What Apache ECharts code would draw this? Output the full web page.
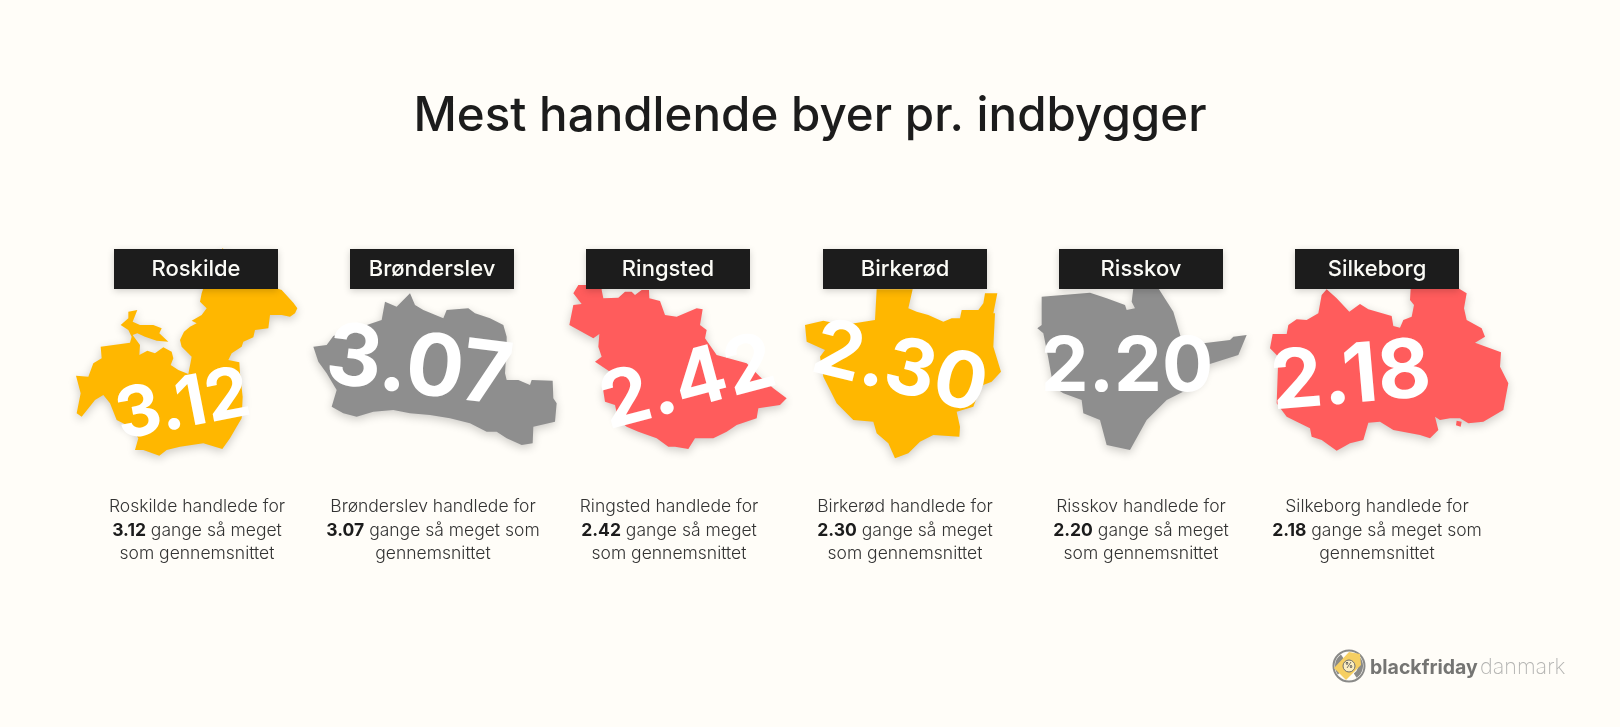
<!DOCTYPE html>
<html><head><meta charset="utf-8">
<script src="https://cdn.jsdelivr.net/npm/echarts@6/dist/echarts.min.js"></script>
<style>html,body{margin:0;padding:0;background:#fffdf8}#c{width:1620px;height:727px}</style>
</head><body><div id="c"></div>
<script>
const TITLE = 'Mest handlende byer pr. indbygger';
const cities = ['Roskilde','Brønderslev','Ringsted','Birkerød','Risskov','Silkeborg'];
const values = [3.12,3.07,2.42,2.30,2.20,2.18];
const colours = ['#ffb700','#8e8e8e','#ff5c5c','#ffb700','#8e8e8e','#ff5c5c'];
const wrapAfterSom = [false,true,false,false,false,true];

// Traced municipality outlines (crop pixels at 3x; origin of the crop below)
const outlineRoskilde = [[430,175],[470,100],[487,55],[495,60],[600,175],[650,175],[665,180],[700,218],[712,235],[705,250],[690,260],[665,255],[630,255],[625,295],[585,300],[580,322],[550,335],[545,350],[515,370],[505,390],[538,397],[540,430],[548,500],[545,565],[530,590],[510,625],[487,657],[430,640],[360,650],[320,660],[298,677],[250,660],[225,660],[235,625],[210,590],[170,570],[150,520],[130,495],[105,510],[65,560],[50,550],[62,490],[48,437],[85,440],[100,400],[125,385],[122,350],[210,338],[215,320],[205,300],[182,285],[205,265],[205,245],[232,240],[218,275],[240,285],[280,285],[305,295],[298,310],[325,335],[290,332],[255,320],[232,310],[218,315],[240,345],[238,375],[262,362],[285,370],[310,352],[335,365],[340,385],[332,405],[355,420],[385,432],[395,380],[365,350],[360,330],[372,305],[390,290],[410,280],[395,272],[425,255],[440,235],[420,215],[425,190]];
const outlineBronderslev = [[760,350],[800,345],[820,318],[905,290],[965,270],[975,215],[1010,230],[1050,190],[1065,225],[1090,240],[1150,265],[1160,240],[1225,235],[1245,250],[1290,265],[1330,285],[1340,320],[1340,350],[1335,430],[1340,450],[1375,450],[1410,465],[1415,450],[1478,452],[1480,505],[1490,520],[1485,575],[1420,590],[1418,640],[1385,645],[1340,625],[1310,605],[1280,605],[1230,580],[1170,565],[1110,555],[1050,550],[1000,540],[940,545],[890,560],[850,550],[815,530],[830,480],[800,430],[775,395]];
const outlineRingsted = [[40,190],[55,165],[125,165],[125,180],[130,205],[175,203],[195,185],[215,185],[225,195],[245,180],[267,180],[268,205],[300,213],[315,255],[350,260],[410,235],[428,238],[420,285],[440,300],[435,325],[470,375],[560,400],[600,440],[640,475],[680,505],[660,525],[595,535],[590,565],[530,585],[500,605],[460,625],[405,625],[385,657],[345,650],[325,650],[290,625],[235,605],[200,590],[175,570],[165,525],[135,515],[128,470],[150,450],[150,425],[105,395],[125,380],[115,350],[118,312],[100,325],[28,285],[40,225],[65,222]];
const outlineBirkerod = [[950,178],[1058,178],[1045,235],[1070,245],[1105,255],[1150,275],[1175,265],[1200,265],[1205,240],[1255,240],[1270,220],[1275,190],[1312,190],[1300,250],[1305,250],[1300,350],[1323,425],[1295,455],[1270,465],[1255,490],[1240,530],[1190,545],[1200,590],[1198,620],[1120,615],[1080,635],[1045,670],[1005,685],[985,640],[950,610],[940,575],[880,570],[830,520],[810,480],[790,440],[780,380],[795,360],[740,335],[735,285],[790,272],[850,285],[945,270]];
const outlineRisskov = [[65,200],[210,188],[260,205],[315,225],[320,240],[345,235],[335,215],[340,175],[415,175],[460,245],[485,330],[550,340],[630,330],[640,320],[680,315],[655,375],[560,405],[545,450],[500,480],[440,510],[380,570],[330,660],[260,645],[240,570],[190,550],[185,510],[130,490],[100,470],[85,385],[70,310],[52,295],[65,285]];
const outlineSilkeborg = [[905,195],[920,178],[950,205],[988,245],[1020,222],[1045,238],[1115,258],[1120,288],[1140,293],[1150,270],[1175,260],[1182,225],[1170,210],[1172,175],[1315,175],[1340,190],[1332,235],[1340,270],[1385,295],[1395,320],[1365,338],[1443,367],[1440,410],[1465,460],[1450,540],[1390,575],[1345,580],[1320,565],[1290,565],[1260,570],[1245,560],[1255,600],[1230,625],[1200,615],[1120,600],[1080,575],[1045,578],[1030,630],[990,640],[950,662],[905,630],[875,620],[870,595],[800,560],[770,520],[775,380],[750,355],[758,312],[800,312],[805,285],[830,268],[860,270],[895,250]];
const outlines = [outlineRoskilde,outlineBronderslev,outlineRingsted,outlineBirkerod,outlineRisskov,outlineSilkeborg];
const islandSilkeborg = [[1310,572],[1325,575],[1322,590],[1308,586]];
const islands = [null,null,null,null,null,islandSilkeborg];

// Layout (kept apart from the data)
const W = 1620, H = 727;
const cropOrigin = [[60,230],[60,230],[560,230],[560,230],[1020,230],[1020,230]];
const boxLeft = [114,350,586,823,1059,1295];
const boxTop = 249, boxW = 164, boxH = 40;
const textCentre = [197,433,669,905,1141,1377];
const numberAt = [[183,406],[419,368],[688,384],[900,369],[1127,368],[1351,378]];
const numberRotate = [11,-7,15,-14,0,5];
const numberSize = [70,86,78,78,76,82];

const toRing = (pts,[ox,oy]) => { const r = pts.map(([x,y])=>[ox+x/3, oy+y/3]); r.push(r[0]); return r; };
const features = cities.map((name,i)=>{
  const polys = [[toRing(outlines[i],cropOrigin[i])]];
  if (islands[i]) polys.push([toRing(islands[i],cropOrigin[i])]);
  return {type:'Feature',properties:{name,cp:numberAt[i]},geometry:{type:'MultiPolygon',coordinates:polys}};
});
echarts.registerMap('byer',{type:'FeatureCollection',features});

const chart = echarts.init(document.getElementById('c'),null,{renderer:'canvas'});
const FONT='Inter';
const graphics = [];
cities.forEach((name,i)=>{
  graphics.push({type:'rect',z:20,silent:true,shape:{x:boxLeft[i],y:boxTop,width:boxW,height:boxH},
    style:{fill:'#1c1c1c',shadowBlur:7,shadowOffsetY:2,shadowColor:'rgba(0,0,0,0.18)'}});
  graphics.push({type:'text',z:21,silent:true,style:{text:name,x:boxLeft[i]+boxW/2,y:boxTop+boxH/2,align:'center',verticalAlign:'middle',
    fontFamily:FONT,fontSize:22,fontWeight:500,fill:'#fbfbf6'}});
  const v = values[i].toFixed(2);
  const body = wrapAfterSom[i]
    ? `${name} handlede for\n{b|${v}} gange så meget som\ngennemsnittet`
    : `${name} handlede for\n{b|${v}} gange så meget\nsom gennemsnittet`;
  graphics.push({type:'text',z:5,silent:true,style:{text:body,x:textCentre[i],y:530.5,align:'center',verticalAlign:'middle',
    fontFamily:FONT,fontSize:17.5,fontWeight:300,fill:'#333',lineHeight:23.5,
    rich:{b:{fontFamily:FONT,fontSize:17.5,fontWeight:700,fill:'#1c1c1c',lineHeight:23.5}}}});
});
// logo
graphics.push({type:'circle',z:5,silent:true,shape:{cx:1349,cy:666,r:15.5},style:{fill:'none',stroke:'#8a8a88',lineWidth:2}});
graphics.push({type:'sector',z:5,silent:true,shape:{cx:1349,cy:666,r:14,r0:9,startAngle:-0.6,endAngle:1.0},style:{fill:'#8a8a88'}});
graphics.push({type:'sector',z:5,silent:true,shape:{cx:1349,cy:666,r:14,r0:9,startAngle:2.5,endAngle:4.1},style:{fill:'#8a8a88'}});
graphics.push({type:'polygon',z:6,silent:true,shape:{points:[[1334,668],[1349,652],[1360,654],[1361,665],[1346,680]]},style:{fill:'#f6cf62'}});
graphics.push({type:'circle',z:7,silent:true,shape:{cx:1349,cy:666,r:6},style:{fill:'#fbeec2',stroke:'#6f6f6d',lineWidth:1}});
graphics.push({type:'text',z:8,silent:true,style:{text:'%',x:1349,y:666,align:'center',verticalAlign:'middle',fontFamily:FONT,fontSize:8,fontWeight:600,fill:'#555'}});
graphics.push({type:'text',z:5,silent:true,style:{text:'blackfriday',x:1370,y:668,align:'left',verticalAlign:'middle',fontFamily:FONT,fontSize:19.5,fontWeight:700,fill:'#757573'}});
graphics.push({type:'text',z:5,silent:true,style:{text:'danmark',x:1480,y:668,align:'left',verticalAlign:'middle',fontFamily:FONT,fontSize:21.5,fontWeight:200,fill:'#b4b4b2'}});

chart.setOption({
  animation:false,
  backgroundColor:'#fffdf8',
  title:{text:TITLE,left:'center',top:88,textStyle:{fontFamily:FONT,fontSize:47.5,fontWeight:500,color:'#1c1c1c'}},
  series:[{
    type:'map',map:'byer',
    projection:{project:p=>p,unproject:p=>p},
    boundingCoords:[[0,0],[W,H]],
    left:0,top:0,width:W,height:H,roam:false,silent:true,
    selectedMode:false,
    itemStyle:{borderWidth:0,shadowBlur:10,shadowOffsetY:3,shadowColor:'rgba(0,0,0,0.2)'},
    emphasis:{disabled:true},
    label:{show:true,color:'#ffffff',fontFamily:FONT,fontWeight:700,formatter:p=>p.value.toFixed(2)},
    data:cities.map((name,i)=>({name,value:values[i],
      itemStyle:{areaColor:colours[i]},
      label:{fontSize:numberSize[i],rotate:numberRotate[i]}}))
  }],
  graphic:graphics
});
</script></body></html>
